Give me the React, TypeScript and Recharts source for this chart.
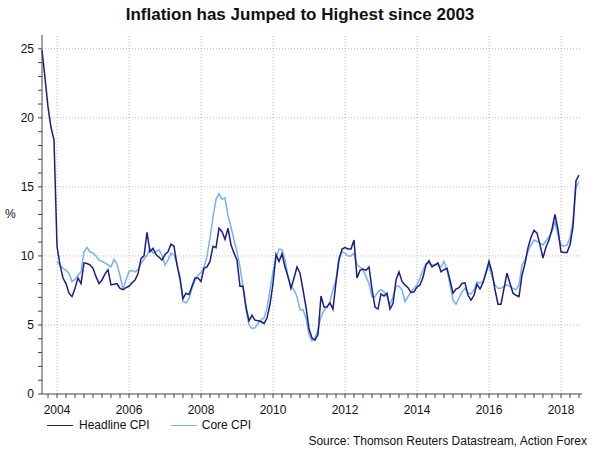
import { Line, LineChart, ReferenceLine, XAxis, YAxis } from 'recharts'

// monthly observations, index 0 = Aug 2003
const firstYear = 2003
const firstMonth = 8

const yearLabels = ['2004', '2006', '2008', '2010', '2012', '2014', '2016', '2018']
const yLabels = [0, 5, 10, 15, 20, 25]
const seriesNames = ['Headline CPI', 'Core CPI']

const headlineCpi = [
  24.9, 22.9, 20.8, 19.3, 18.4,
  10.7, 9.35, 8.4, 8.0, 7.3, 7.05, 7.65, 8.4, 8.0, 9.5, 9.45, 9.35,
  9.1, 8.5, 8.0, 8.25, 8.7, 9.0, 7.9, 7.95, 8.0, 7.65, 7.55, 7.7,
  7.8, 8.05, 8.25, 8.7, 9.8, 10.0, 11.7, 10.3, 10.55, 10.1, 9.9, 9.7,
  10.1, 10.3, 10.85, 10.7, 9.35, 8.4, 6.9, 7.3, 7.2, 7.8, 8.4, 8.4,
  8.15, 9.1, 9.2, 9.6, 10.7, 10.6, 12.0, 11.75, 11.2, 12.0, 10.8, 10.2,
  9.7, 7.8, 7.8, 6.3, 5.3, 5.7, 5.35, 5.3, 5.25, 5.1, 5.5, 6.5,
  8.0, 10.1, 9.6, 10.15, 9.2, 8.5, 7.65, 8.4, 9.2, 8.75, 7.55, 6.3,
  4.7, 4.05, 3.9, 4.3, 7.1, 6.3, 6.3, 6.6, 6.15, 8.1, 9.7, 10.5,
  10.6, 10.5, 10.5, 11.15, 8.4, 8.95, 9.05, 8.95, 9.2, 7.6, 6.3, 6.15,
  7.25, 7.1, 7.3, 6.15, 6.55, 8.25, 8.85, 8.15, 7.9, 7.7, 7.35, 7.4,
  7.75, 7.9, 8.45, 9.35, 9.65, 9.2, 9.35, 9.5, 8.85, 9.0, 9.1, 8.25,
  7.3, 7.6, 7.7, 8.0, 8.05, 7.15, 6.8, 7.15, 7.95, 7.6, 8.05, 8.8,
  9.6, 8.8, 7.55, 6.5, 6.5, 7.65, 8.75, 8.0, 7.3, 7.15, 7.05, 8.6,
  9.45, 10.6, 11.35, 11.85, 11.65, 10.8, 9.85, 10.65, 11.15, 11.95, 13.0, 11.9,
  10.3, 10.25, 10.25, 10.8, 12.1, 15.45, 15.85,
]

const coreCpi = [
  null, null, null, null, null,
  9.6, 9.35, 9.1, 8.95, 8.75, 8.15, 8.3, 8.6, 8.85, 10.3, 10.6, 10.3,
  10.2, 10.0, 9.7, 9.6, 9.5, 9.35, 9.2, 9.75, 9.4, 8.6, 7.55, 8.25,
  8.85, 8.95, 8.85, 9.0, 9.45, 9.75, 10.05, 10.55, 10.2, 10.3, 10.45, 10.05,
  9.35, 9.7, 10.2, 10.05, 9.45, 8.25, 6.7, 6.6, 6.9, 7.65, 8.25, 8.6,
  8.8, 9.2, 9.95, 11.3, 12.8, 14.1, 14.5, 14.1, 14.2, 12.9, 12.1, 11.15,
  10.3, 9.2, 7.8, 6.1, 5.0, 4.75, 4.8, 5.1, 5.35, 5.5, 6.2, 7.55,
  8.85, 9.85, 10.5, 10.45, 9.7, 8.5, 7.8, 7.55, 7.05, 6.1, 6.1, 5.5,
  4.3, 3.85, 4.05, 4.65, 5.6, 6.05, 6.3, 6.7, 7.55, 8.25, 9.95, 10.3,
  10.2, 10.0, 10.0, 10.2, 9.35, 9.2, 9.0, 8.5, 8.0, 7.05, 7.05, 7.4,
  7.55, 7.4, 7.05, 6.5, 7.05, 7.8, 7.8, 7.55, 6.7, 7.05, 7.4, 7.65,
  7.9, 8.4, 9.0, 9.45, 9.45, 9.35, 9.35, 9.35, 9.2, 9.6, 9.0, 7.9,
  6.8, 6.5, 6.95, 7.4, 7.65, 7.3, 7.25, 7.55, 8.1, 8.05, 8.15, 8.75,
  9.35, 8.5, 7.9, 7.65, 7.65, 7.8, 7.9, 7.8, 7.65, 7.55, 7.9, 9.35,
  9.7, 10.3, 10.8, 11.15, 11.05, 10.95, 10.8, 11.1, 11.35, 11.75, 12.5, 11.5,
  10.8, 10.7, 10.8, 11.3, 12.6, 15.0, 15.35,
]

const HEADLINE = '#1c1c8a'
const CORE = '#72b4f2'
const GRID = '#b8b8b8'
const AXIS = '#444'
const FONT = '"Liberation Sans", Arial, sans-serif'

const data = headlineCpi.map((v, i) => ({ m: i, headline: v, core: coreCpi[i] }))

// month index of January of a given year
const janIndex = (year: number) => (year - firstYear) * 12 + 1 - firstMonth
const yearTicks = yearLabels.map((y) => janIndex(Number(y)))
const quarterTicks = data.filter((d) => (d.m - 2) % 3 === 0).map((d) => d.m)
const unitTicks = Array.from({ length: 26 }, (_, i) => i)

function XTick(props: any) {
  const { x, y, payload } = props
  const idx = yearTicks.indexOf(payload.value)
  return (
    <g>
      <line x1={x} x2={x} y1={y} y2={y + 4} stroke={AXIS} />
      {idx >= 0 && (
        <text x={x} y={y + 20} textAnchor="middle" fontSize={12} fill="#111" fontFamily={FONT}>
          {yearLabels[idx]}
        </text>
      )}
    </g>
  )
}

function YTick(props: any) {
  const { x, y, payload } = props
  const major = yLabels.includes(payload.value)
  return (
    <g>
      <line x1={x} x2={x - 4} y1={y} y2={y} stroke={AXIS} />
      {major && (
        <text x={x - 8} y={y + 4} textAnchor="end" fontSize={12} fill="#111" fontFamily={FONT}>
          {payload.value}
        </text>
      )}
    </g>
  )
}

export default function App() {
  return (
    <div
      style={{
        position: 'absolute',
        left: 0,
        top: 0,
        width: 600,
        height: 450,
        background: '#fff',
        fontFamily: FONT,
        color: '#111',
      }}
    >
      <div
        style={{
          position: 'absolute',
          top: 5,
          width: 600,
          textAlign: 'center',
          fontWeight: 'bold',
          fontSize: 17,
        }}
      >
        Inflation has Jumped to Highest since 2003
      </div>
      <div style={{ position: 'absolute', left: 5, top: 207, fontSize: 12 }}>%</div>

      <LineChart width={600} height={450} data={data} margin={{ top: 35, right: 18, left: 0, bottom: 36 }}>
        {yLabels.slice(1).map((v) => (
          <ReferenceLine key={`h${v}`} y={v} stroke={GRID} strokeDasharray="1 2" />
        ))}
        {yearTicks.map((m) => (
          <ReferenceLine key={`v${m}`} x={m} stroke={GRID} strokeDasharray="1 2" />
        ))}
        <XAxis
          dataKey="m"
          type="number"
          domain={[0, 180]}
          ticks={quarterTicks}
          interval={0}
          height={20}
          tickSize={0}
          tickMargin={0}
          tick={(p: any) => <XTick {...p} />}
          stroke={AXIS}
        />
        <YAxis
          type="number"
          domain={[0, 26]}
          ticks={unitTicks}
          interval={0}
          width={42}
          tickSize={0}
          tickMargin={0}
          tick={(p: any) => <YTick {...p} />}
          stroke={AXIS}
        />
        <Line
          dataKey="core"
          name={seriesNames[1]}
          type="linear"
          stroke={CORE}
          strokeWidth={1.5}
          dot={false}
          isAnimationActive={false}
        />
        <Line
          dataKey="headline"
          name={seriesNames[0]}
          type="linear"
          stroke={HEADLINE}
          strokeWidth={1.5}
          dot={false}
          isAnimationActive={false}
        />
      </LineChart>

      <div style={{ position: 'absolute', left: 47, top: 418, fontSize: 12, display: 'flex', alignItems: 'center' }}>
        <span style={{ width: 26, height: 0, borderTop: `1.5px solid ${HEADLINE}`, marginRight: 6 }} />
        <span style={{ marginRight: 21 }}>{seriesNames[0]}</span>
        <span style={{ width: 26, height: 0, borderTop: `1.5px solid ${CORE}`, marginRight: 5 }} />
        <span>{seriesNames[1]}</span>
      </div>
      <div style={{ position: 'absolute', right: 13, top: 434, fontSize: 12 }}>
        Source: Thomson Reuters Datastream, Action Forex
      </div>
    </div>
  )
}
